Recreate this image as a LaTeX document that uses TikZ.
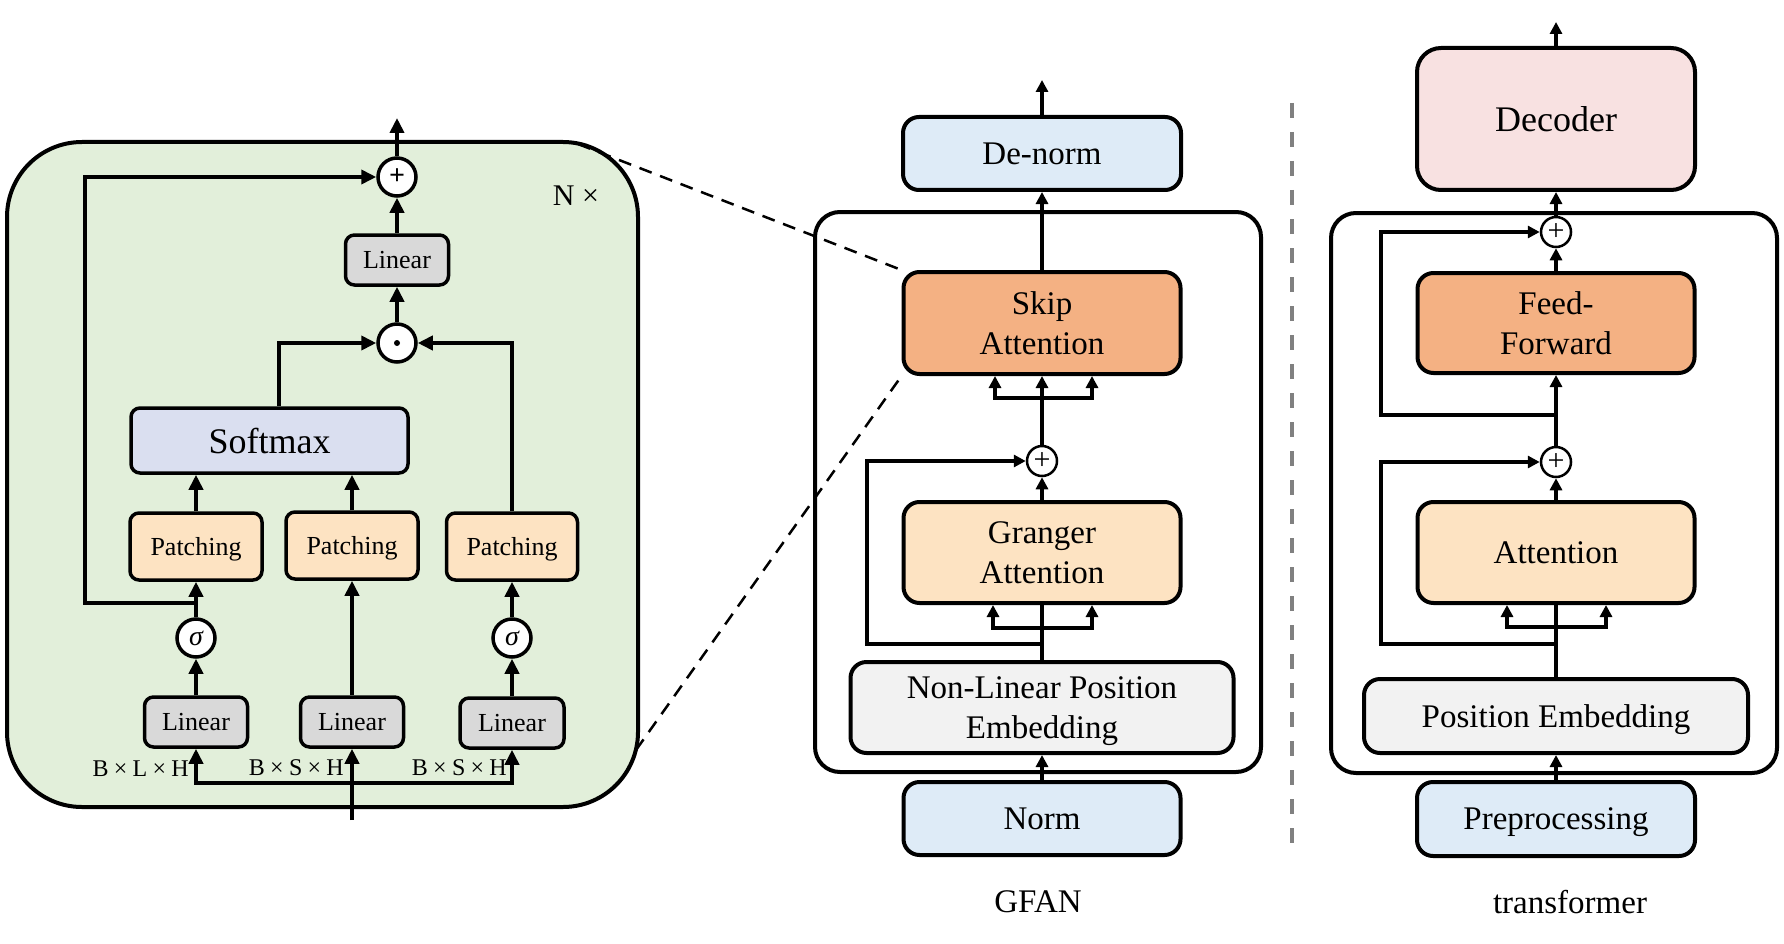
\documentclass[tikz,border=0pt]{standalone}
\usepackage{fontspec}
\setmainfont{Liberation Serif}
\usetikzlibrary{arrows.meta,calc}
\definecolor{cgreen}{RGB}{226,239,218}
\definecolor{cblue}{RGB}{222,235,247}
\definecolor{corange}{RGB}{244,177,131}
\definecolor{cpeach}{RGB}{253,227,194}
\definecolor{clav}{RGB}{218,223,240}
\definecolor{cgray}{RGB}{217,217,217}
\definecolor{clight}{RGB}{242,242,242}
\definecolor{cpink}{RGB}{248,225,225}
\definecolor{cdash}{RGB}{128,128,128}
\begin{document}
\begin{tikzpicture}[x=1pt,y=-1pt,
  lbox/.style={draw, line width=3.5pt, rounded corners=9pt, align=center, inner sep=0pt, text depth=0pt, font=\fontsize{26}{30}\selectfont},
  mbox/.style={draw, line width=4pt, rounded corners=16pt, align=center, inner sep=0pt, text depth=0pt, font=\fontsize{33}{40}\selectfont},
  circL/.style={circle, draw, fill=white, line width=3.5pt, minimum size=38pt, inner sep=0pt},
  circM/.style={circle, draw, fill=white, line width=2.5pt, minimum size=30pt, inner sep=0pt, font=\fontsize{30}{30}\selectfont},
  arrL/.style={line width=4.5pt, -{Triangle[length=15pt,width=14pt]}},
  arrM/.style={line width=4pt, -{Triangle[length=12pt,width=12pt]}},
  lnM/.style={line width=4pt},
  dsh/.style={line width=2.5pt, dash pattern=on 13pt off 9pt},
  lbl/.style={inner sep=0pt, font=\fontsize{33}{40}\selectfont},
  dimlbl/.style={inner sep=0pt, anchor=east, font=\fontsize{24}{26}\selectfont}
]
\useasboundingbox (0,0) rectangle (1784,944);

% ---------------- left panel ----------------
\draw[line width=4pt, fill=cgreen, rounded corners=75pt] (7,142) rectangle (638,807);

\node[circL] (plusL) at (397,177) {\fontsize{28}{28}\selectfont\bfseries +};
\node[lbox, fill=cgray, minimum width=103pt, minimum height=50pt] (linT) at (397,260) {Linear};
\node[circL] (dotL) at (397,343) {};
\fill (dotL.center) circle (3pt);
\node[lbox, fill=clav, minimum width=277pt, minimum height=65pt, font=\fontsize{36}{40}\selectfont] (soft) at (269.5,440.5) {Softmax};
\node[lbox, fill=cpeach, minimum width=132pt, minimum height=67pt] (P1) at (196,546.5) {Patching};
\node[lbox, fill=cpeach, minimum width=132pt, minimum height=67pt] (P2) at (352,545.5) {Patching};
\node[lbox, fill=cpeach, minimum width=131pt, minimum height=67pt] (P3) at (512,546.5) {Patching};
\node[circL] (sig1) at (196,638) {\fontsize{28}{28}\selectfont\itshape σ};
\node[circL] (sig3) at (512,638) {\fontsize{28}{28}\selectfont\itshape σ};
\node[lbox, fill=cgray, minimum width=103pt, minimum height=50pt] (L1) at (196,722) {Linear};
\node[lbox, fill=cgray, minimum width=103pt, minimum height=50pt] (L2) at (352,722) {Linear};
\node[lbox, fill=cgray, minimum width=104pt, minimum height=50pt] (L3) at (512,723) {Linear};

\node[dimlbl] (d1) at (189,769) {B\hspace{0.22em}×\hspace{0.22em}L\hspace{0.22em}×\hspace{0.22em}H};
\node[dimlbl] (d2) at (344,768) {B\hspace{0.22em}×\hspace{0.22em}S\hspace{0.22em}×\hspace{0.22em}H};
\node[dimlbl] (d3) at (507,768) {B\hspace{0.22em}×\hspace{0.22em}S\hspace{0.22em}×\hspace{0.22em}H};
\node[inner sep=0pt, font=\fontsize{30}{32}\selectfont] (nx) at (576,196) {N ×};

\coordinate (outL) at (397,118);
\draw[arrL] (plusL.north) -- (outL);
\draw[arrL] (linT.north) -- (plusL.south);
\draw[arrL] (dotL.north) -- (linT.south);
\draw[arrL] ($(soft.north)+(9.5,0)$) |- (dotL.west);
\draw[arrL] (P3.north) |- (dotL.east);
\draw[arrL] (P1.north) -- (P1.north |- soft.south);
\draw[arrL] (P2.north) -- (P2.north |- soft.south);
\draw[arrL] (sig1.north) -- (P1.south);
\draw[arrL] (sig3.north) -- (P3.south);
\draw[arrL] (L1.north) -- (sig1.south);
\draw[arrL] (L3.north) -- (sig3.south);
\draw[arrL] (L2.north) -- (P2.south);
\coordinate (s1) at (196,603);
\draw[arrL] (s1) -- (85,603) |- (plusL.west);
\coordinate (inL) at (352,820);
\coordinate (hb) at (352,783);
\draw[arrL] (inL) -- (L2.south);
\draw[arrL] (hb) -| (L1.south);
\draw[arrL] (hb) -| (L3.south);

% ---------------- middle (GFAN) ----------------
\draw[line width=4pt, rounded corners=25pt] (815,212) rectangle (1261,772);
\node[mbox, fill=cblue, minimum width=278pt, minimum height=73pt] (denorm) at (1042,153.5) {De-norm};
\node[mbox, fill=corange, minimum width=277pt, minimum height=102pt] (skipatt) at (1042,323) {Skip\\Attention};
\node[circM] (plusM) at (1042,461) {+};
\node[mbox, fill=cpeach, minimum width=277pt, minimum height=101pt] (granger) at (1042,552.5) {Granger\\Attention};
\node[mbox, fill=clight, minimum width=383pt, minimum height=91pt] (nlpe) at (1042,707.5) {Non-Linear Position\\Embedding};
\node[mbox, fill=cblue, minimum width=277pt, minimum height=73pt] (norm) at (1042,818.5) {Norm};
\node[lbl] (gfan) at (1038,902) {GFAN};

\coordinate (outM) at (1042,80);
\draw[arrM] (denorm.north) -- (outM);
\draw[arrM] (skipatt.north) -- (denorm.south);
\draw[arrM] (plusM.north) -- (skipatt.south);
\coordinate (bS) at (1042,398);
\draw[arrM] (bS) -| ($(skipatt.south)+(-47,0)$);
\draw[arrM] (bS) -| ($(skipatt.south)+(50,0)$);
\draw[arrM] (granger.north) -- (plusM.south);
\draw[lnM] (nlpe.north) -- (granger.south);
\coordinate (bG) at (1042,628);
\draw[arrM] (bG) -| ($(granger.south)+(-49,0)$);
\draw[arrM] (bG) -| ($(granger.south)+(50,0)$);
\coordinate (sM) at (1042,644);
\draw[arrM] (sM) -- (867,644) |- (plusM.west);
\draw[arrM] (norm.north) -- (nlpe.south);

% zoom lines
\coordinate (g1) at (578,144);
\coordinate (g2) at (636,750);
\draw[dsh] (g1) -- (skipatt.north west);
\draw[dsh] (g2) -- (skipatt.south west);

% divider
\coordinate (dv1) at (1292,103);
\coordinate (dv2) at (1292,847);
\draw[cdash, line width=4pt, dash pattern=on 15pt off 14pt] (dv1) -- (dv2);

% ---------------- right (transformer) ----------------
\draw[line width=4pt, rounded corners=25pt] (1331,213) rectangle (1777,773);
\node[mbox, fill=cpink, minimum width=278pt, minimum height=142pt, rounded corners=24pt, font=\fontsize{36}{40}\selectfont] (dec) at (1556,119) {Decoder};
\node[circM] (plusR1) at (1556,232) {+};
\node[mbox, fill=corange, minimum width=277pt, minimum height=100pt] (ff) at (1556,323) {Feed-\\Forward};
\node[circM] (plusR2) at (1556,462) {+};
\node[mbox, fill=cpeach, minimum width=277pt, minimum height=101pt] (att) at (1556,552.5) {Attention};
\node[mbox, fill=clight, minimum width=384pt, minimum height=74pt] (pos) at (1556,716) {Position Embedding};
\node[mbox, fill=cblue, minimum width=278pt, minimum height=74pt] (pre) at (1556,819) {Preprocessing};
\node[lbl] (trf) at (1570,902) {transformer};

\coordinate (outR) at (1556,22);
\draw[arrM] (dec.north) -- (outR);
\draw[arrM] (plusR1.north) -- (dec.south);
\draw[arrM] (ff.north) -- (plusR1.south);
\draw[arrM] (plusR2.north) -- (ff.south);
\coordinate (sR1) at (1556,415);
\draw[arrM] (sR1) -- (1381,415) |- (plusR1.west);
\draw[arrM] (att.north) -- (plusR2.south);
\draw[lnM] (pos.north) -- (att.south);
\coordinate (bA) at (1556,627);
\draw[arrM] (bA) -| ($(att.south)+(-49,0)$);
\draw[arrM] (bA) -| ($(att.south)+(50,0)$);
\coordinate (sR2) at (1556,644);
\draw[arrM] (sR2) -- (1381,644) |- (plusR2.west);
\draw[arrM] (pre.north) -- (pos.south);
\end{tikzpicture}
\end{document}
